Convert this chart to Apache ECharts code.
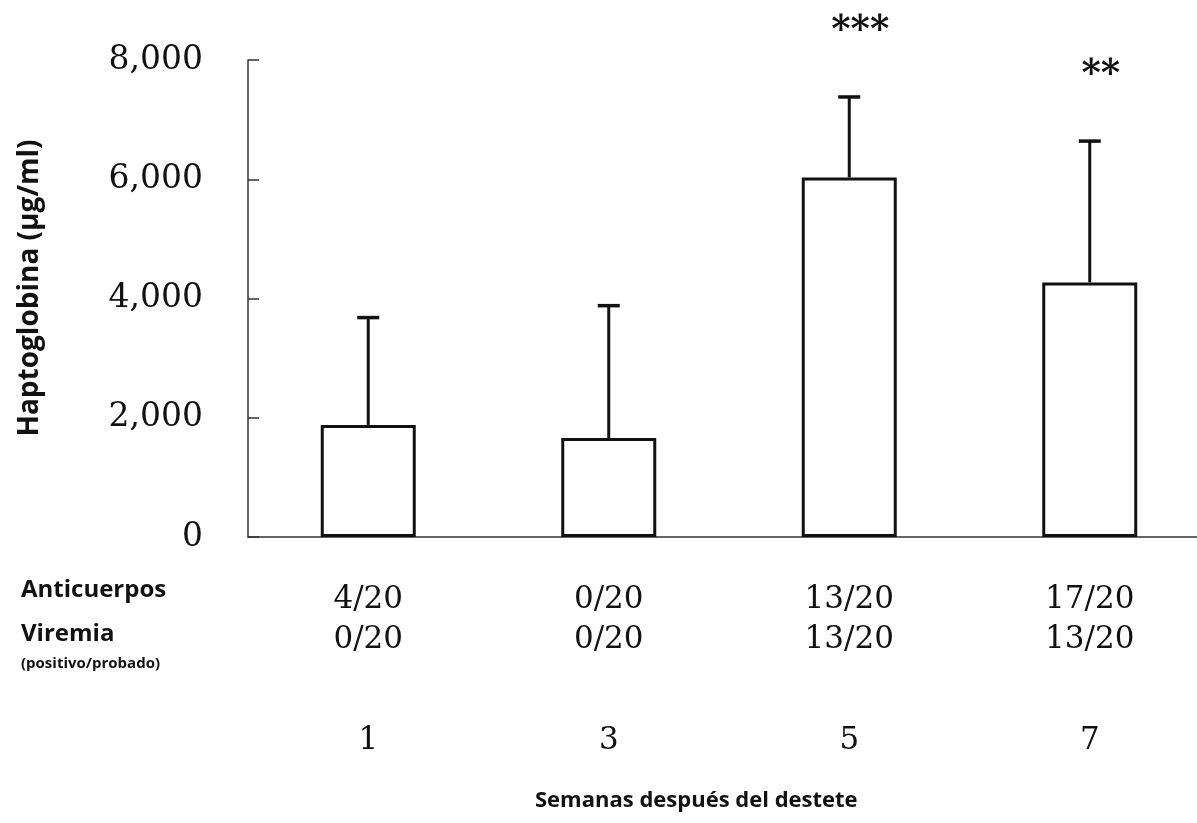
<!DOCTYPE html>
<html>
<head>
<meta charset="utf-8">
<script src="https://cdn.jsdelivr.net/npm/echarts@6/dist/echarts.min.js"></script>
<style>
  html, body { margin: 0; padding: 0; background: #fff; overflow: hidden; }
  /* the plot runs off the right edge of the page, so the canvas is wider than the view */
  #chart { width: 1230px; height: 823px; }
</style>
</head>
<body>
<div id="chart"></div>
<script>
// Weeks after weaning
var weeks = ['1', '3', '5', '7'];
// Mean serum haptoglobin (µg/ml)
var haptoMean = [1880, 1660, 6030, 4270];
// Mean + SD (top of the error bar)
var haptoUpper = [3680, 3880, 7380, 6640];
// Significance markers
var significance = ['', '', '***', '**'];
// Antibody-positive / tested
var antibodies = ['4/20', '0/20', '13/20', '17/20'];
// Viremia-positive / tested
var viremia = ['0/20', '0/20', '13/20', '13/20'];

var serif = '"DejaVu Serif", "Liberation Serif", serif';
var sans = '"Open Sans", "Noto Sans", sans-serif';
var ink = '#111';

var chart = echarts.init(document.getElementById('chart'), null, { renderer: 'canvas' });

var errorData = weeks.map(function (w, i) { return [i, haptoMean[i], haptoUpper[i]]; });

chart.setOption({
  backgroundColor: '#fff',
  animation: false,
  grid: { left: 248, top: 60, width: 962, height: 477, containLabel: false },
  xAxis: {
    type: 'category',
    data: weeks,
    axisLine: { lineStyle: { color: '#333', width: 1.5 } },
    axisTick: { inside: true, length: 7, alignWithLabel: false, lineStyle: { color: '#333', width: 1.5 } },
    axisLabel: {
      margin: 43,
      formatter: function (value, idx) {
        return '{r|' + antibodies[idx] + '}\n{r|' + viremia[idx] + '}\n{gap|}\n{r|' + value + '}';
      },
      rich: {
        r: { fontFamily: serif, fontSize: 31, color: ink, lineHeight: 40, align: 'center' },
        gap: { lineHeight: 61, fontSize: 10 }
      }
    }
  },
  yAxis: {
    type: 'value',
    min: 0,
    max: 8000,
    interval: 2000,
    splitLine: { show: false },
    axisLine: { show: true, lineStyle: { color: '#333', width: 1.5 } },
    axisTick: { show: true, inside: true, length: 11, lineStyle: { color: '#333', width: 1.5 } },
    axisLabel: {
      margin: 45,
      fontFamily: serif,
      fontSize: 33,
      color: ink,
      formatter: function (v) { return v === 0 ? '0' : v.toLocaleString('en-US'); }
    }
  },
  series: [
    {
      type: 'bar',
      data: haptoMean,
      barWidth: 95,
      itemStyle: { color: '#fff', borderColor: ink, borderWidth: 3 },
      z: 2
    },
    {
      type: 'custom',
      data: errorData,
      z: 3,
      renderItem: function (params, api) {
        var idx = api.value(0);
        var base = api.coord([idx, api.value(1)]);
        var top = api.coord([idx, api.value(2)]);
        var x = base[0];
        var children = [
          { type: 'line', shape: { x1: x, y1: base[1], x2: x, y2: top[1] }, style: { stroke: ink, lineWidth: 3 } },
          { type: 'line', shape: { x1: x - 11, y1: top[1], x2: x + 11, y2: top[1] }, style: { stroke: ink, lineWidth: 3.5 } }
        ];
        var mark = significance[idx];
        if (mark) {
          children.push({
            type: 'text',
            style: {
              text: mark, x: x + 11, y: top[1] - 66,
              fontFamily: serif, fontSize: 37, fontWeight: 'bold', fill: ink,
              align: 'center', verticalAlign: 'middle'
            }
          });
        }
        return { type: 'group', children: children };
      }
    }
  ],
  graphic: [
    {
      type: 'text', x: 30, y: 288, rotation: Math.PI / 2,
      style: { text: 'Haptoglobina (μg/ml)', fontFamily: sans, fontWeight: 'bold', fontSize: 28, fill: ink, align: 'center', verticalAlign: 'middle' }
    },
    { type: 'text', left: 21, top: 578, style: { text: 'Anticuerpos', fontFamily: sans, fontWeight: 'bold', fontSize: 24, fill: ink } },
    { type: 'text', left: 21, top: 622, style: { text: 'Viremia', fontFamily: sans, fontWeight: 'bold', fontSize: 24, fill: ink } },
    { type: 'text', left: 21, top: 656, style: { text: '(positivo/probado)', fontFamily: sans, fontWeight: 'bold', fontSize: 15, fill: ink } },
    { type: 'text', left: 535, top: 790, style: { text: 'Semanas después del destete', fontFamily: sans, fontWeight: 'bold', fontSize: 22, fill: ink } }
  ]
});
</script>
</body>
</html>
